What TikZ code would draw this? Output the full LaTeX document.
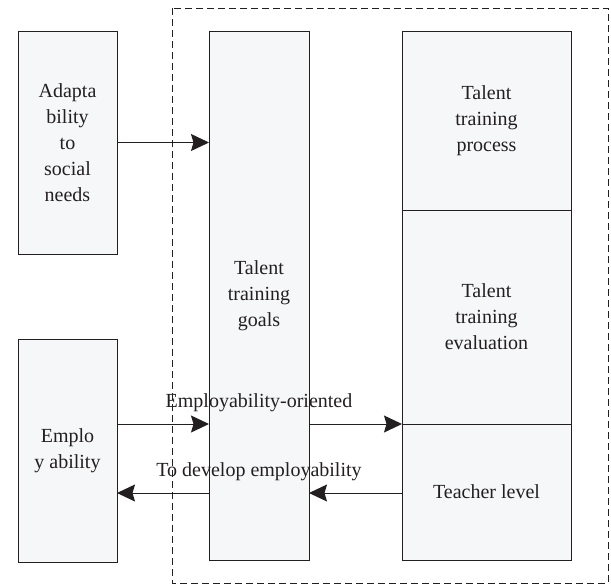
\documentclass[tikz,border=0pt]{standalone}
\usepackage{fontspec}
\setmainfont{Liberation Serif}
\usepackage{tikz}
\usetikzlibrary{positioning,arrows.meta}
\definecolor{boxfill}{RGB}{246,247,249}
\definecolor{linecol}{RGB}{35,31,32}
\tikzset{%
  block/.style={rectangle,draw=linecol,line width=1pt,fill=boxfill,
    align=center,inner sep=0pt,outer sep=0pt,text=linecol,
    font=\fontsize{20}{26}\selectfont},
  flow/.style={draw=linecol,line width=1pt,
    -{Stealth[length=18pt,width=17pt,inset=2.5pt]}},
  flowlabel/.style={text=linecol,inner sep=0pt,
    font=\fontsize{20}{26}\selectfont},
  frame/.style={draw=linecol,line width=0.8pt,dash pattern=on 7pt off 4pt}
}

\begin{document}
\begin{tikzpicture}[x=1pt,y=-1pt]
    \useasboundingbox (0,0) rectangle (611,584);
    \draw [frame] (172,8) rectangle (608,583);

    % outer factors
    \node [block,minimum width=99pt,minimum height=223pt] (adapt) at (67.5,142.5)
      {Adapta\\bility\\to\\social\\needs};
    \node [block,minimum width=99pt,minimum height=223pt] (employ) at (67.5,450.5)
      {Emplo\\y ability};

    % training system
    \node [block,minimum width=100pt,minimum height=529pt] (goals) at (259,295.5)
      {Talent\\training\\goals};
    \node [block,minimum width=169pt,minimum height=179pt] (process) at (486.5,120.5)
      {Talent\\training\\process};
    \node [block,minimum width=169pt,minimum height=214pt] (eval) [below=0pt of process]
      {Talent\\training\\evaluation};
    \node [block,minimum width=169pt,minimum height=136pt] (teacher) [below=0pt of eval]
      {Teacher level};

    \coordinate (fwd) at (0,424);
    \coordinate (back) at (0,493);

    \draw [flow] (adapt.east) -- (adapt.east -| goals.west);
    \draw [flow] (employ.east |- fwd) -- (goals.west |- fwd);
    \draw [flow] (goals.east |- fwd) -- (eval.south west);
    \draw [flow] (teacher.west |- back) -- (goals.east |- back);
    \draw [flow] (goals.west |- back) -- (employ.east |- back);

    \node [flowlabel] (fwdlabel) at (259,403) {Employability-oriented};
    \node [flowlabel] (backlabel) at (259,472) {To develop employability};
  \end{tikzpicture}
\end{document}
